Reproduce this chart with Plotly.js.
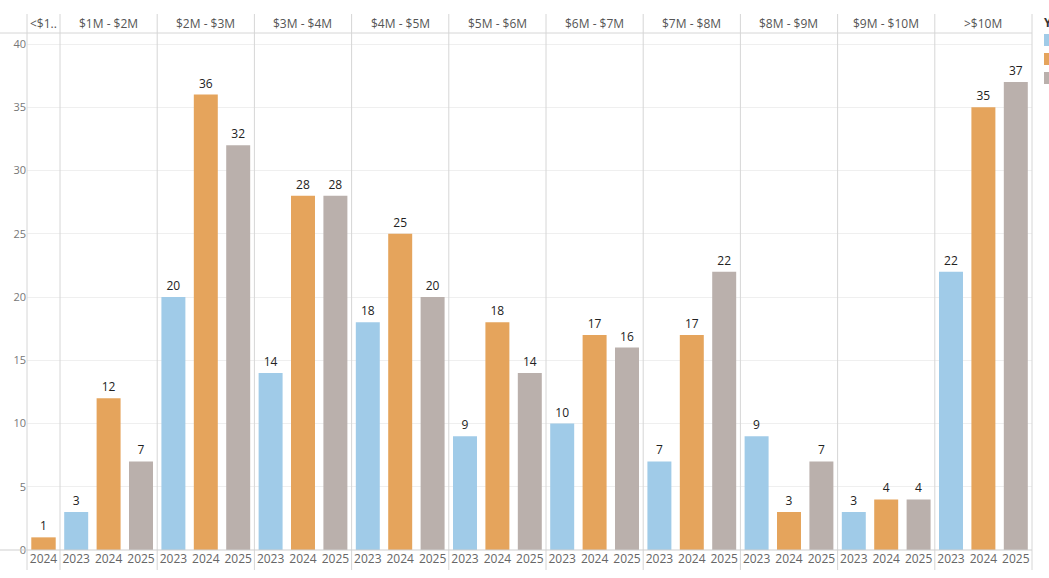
<!DOCTYPE html>
<html>
<head>
<meta charset="utf-8">
<script src="https://cdn.plot.ly/plotly-3.0.1.min.js"></script>
<style>html,body{margin:0;padding:0;background:#fff;overflow:hidden}#chart{width:1049px;height:578px}</style>
</head>
<body>
<div id="chart"></div>
<script>
// ---- data ----
const bands = ["<$1M", "$1M - $2M", "$2M - $3M", "$3M - $4M", "$4M - $5M", "$5M - $6M", "$6M - $7M", "$7M - $8M", "$8M - $9M", "$9M - $10M", ">$10M"];
const headerLabels = ["<$1..", "$1M - $2M", "$2M - $3M", "$3M - $4M", "$4M - $5M", "$5M - $6M", "$6M - $7M", "$7M - $8M", "$8M - $9M", "$9M - $10M", ">$10M"];
const years = ["2023", "2024", "2025"];
const v2023 = [null, 3, 20, 14, 18, 9, 10, 7, 9, 3, 22];
const v2024 = [1, 12, 36, 28, 25, 18, 17, 17, 3, 4, 35];
const v2025 = [null, 7, 32, 28, 20, 14, 16, 22, 7, 4, 37];
const yearColors = ["#A0CBE8", "#E5A45C", "#BAB0AC"];
const yTicks = [0, 5, 10, 15, 20, 25, 30, 35, 40];
const legendTitle = "Year";

// ---- layout geometry ----
const W = 1049, H = 578;
const mL = 27, mR = 17, mT = 33, mB = 28;
const plotW = W - mL - mR, plotH = H - mT - mB;
const series = [v2023, v2024, v2025];
const px = x => (x - mL) / plotW;          // pixel x -> paper x
const py = y => (H - mB - y) / plotH;      // pixel y -> paper y

const cats = bands.map((b, i) => years.filter((y, k) => series[k][i] !== null));
const firstW = 33 / plotW;
const otherW = (1 - firstW) / (bands.length - 1);
const domains = [];
let acc = 0;
for (let i = 0; i < bands.length; i++) {
  const w = i === 0 ? firstW : otherW;
  domains.push([acc, Math.min(1, acc + w)]);
  acc += w;
}

const traces = [];
const layout = {
  width: W, height: H,
  margin: {l: mL, r: mR, t: mT, b: mB, pad: 0, autoexpand: false},
  paper_bgcolor: "#fff", plot_bgcolor: "#fff",
  barmode: "overlay",
  bargap: 0.26,
  showlegend: false,
  font: {family: "Open Sans, Lato, sans-serif", size: 12, color: "#666"},
  yaxis: {
    range: [0, 40.87], tickvals: yTicks, showgrid: true, gridcolor: "#EFEFEF", gridwidth: 1,
    zeroline: false, showline: false, ticks: "", tickfont: {size: 11, color: "#777"},
    fixedrange: true, anchor: "x", automargin: false
  },
  shapes: [], annotations: []
};

bands.forEach((b, i) => {
  const ax = i === 0 ? "x" : "x" + (i + 1);
  const axKey = i === 0 ? "xaxis" : "xaxis" + (i + 1);
  layout[axKey] = {
    domain: domains[i], type: "category", categoryorder: "array", categoryarray: cats[i],
    anchor: "y", showgrid: false, zeroline: false, showline: false, ticks: "",
    tickfont: {size: 12, color: "#666"}, fixedrange: true, automargin: false
  };
  years.forEach((yr, k) => {
    const val = series[k][i];
    if (val === null) return;
    traces.push({
      type: "bar", x: [yr], y: [val], xaxis: ax, yaxis: "y",
      name: yr, showlegend: false,
      marker: {color: yearColors[k], line: {width: 0}},
      text: [String(val)], textposition: "outside", cliponaxis: false,
      textfont: {size: 12, color: "#222"}, hoverinfo: "x+y"
    });
  });
  layout.annotations.push({
    xref: "paper", yref: "paper",
    x: (domains[i][0] + domains[i][1]) / 2, y: py(23.5),
    text: headerLabels[i], showarrow: false, xanchor: "center", yanchor: "middle",
    font: {size: 12, color: "#555"}
  });
});

// separators
const bounds = [0].concat(domains.map(d => d[1]));
bounds.forEach(bx => {
  layout.shapes.push({type: "line", xref: "paper", yref: "paper", x0: bx, x1: bx, y0: py(570), y1: py(14),
    line: {color: "#D6D6D6", width: 1}});
});
layout.shapes.push({type: "line", xref: "paper", yref: "paper", x0: px(0), x1: 1, y0: 1, y1: 1,
  line: {color: "#D6D6D6", width: 1}});
layout.shapes.push({type: "line", xref: "paper", yref: "paper", x0: px(0), x1: 1, y0: 0, y1: 0,
  line: {color: "#CFCFCF", width: 1}});

// legend (cut off at the right edge, as in the reference)
layout.annotations.push({
  xref: "paper", yref: "paper", x: px(1042), y: py(22), xanchor: "left", yanchor: "middle",
  text: "<b>" + legendTitle + "</b>", showarrow: false, font: {size: 12, color: "#333"}
});
years.forEach((yr, k) => {
  const top = 34 + k * 19;
  layout.shapes.push({type: "rect", xref: "paper", yref: "paper",
    x0: px(1044), x1: px(1056), y0: py(top + 12), y1: py(top),
    fillcolor: yearColors[k], line: {width: 0}});
  layout.annotations.push({
    xref: "paper", yref: "paper", x: px(1060), y: py(top + 6), xanchor: "left", yanchor: "middle",
    text: yr, showarrow: false, font: {size: 12, color: "#333"}
  });
});

Plotly.newPlot("chart", traces, layout, {displayModeBar: false, staticPlot: true});
</script>
</body>
</html>
